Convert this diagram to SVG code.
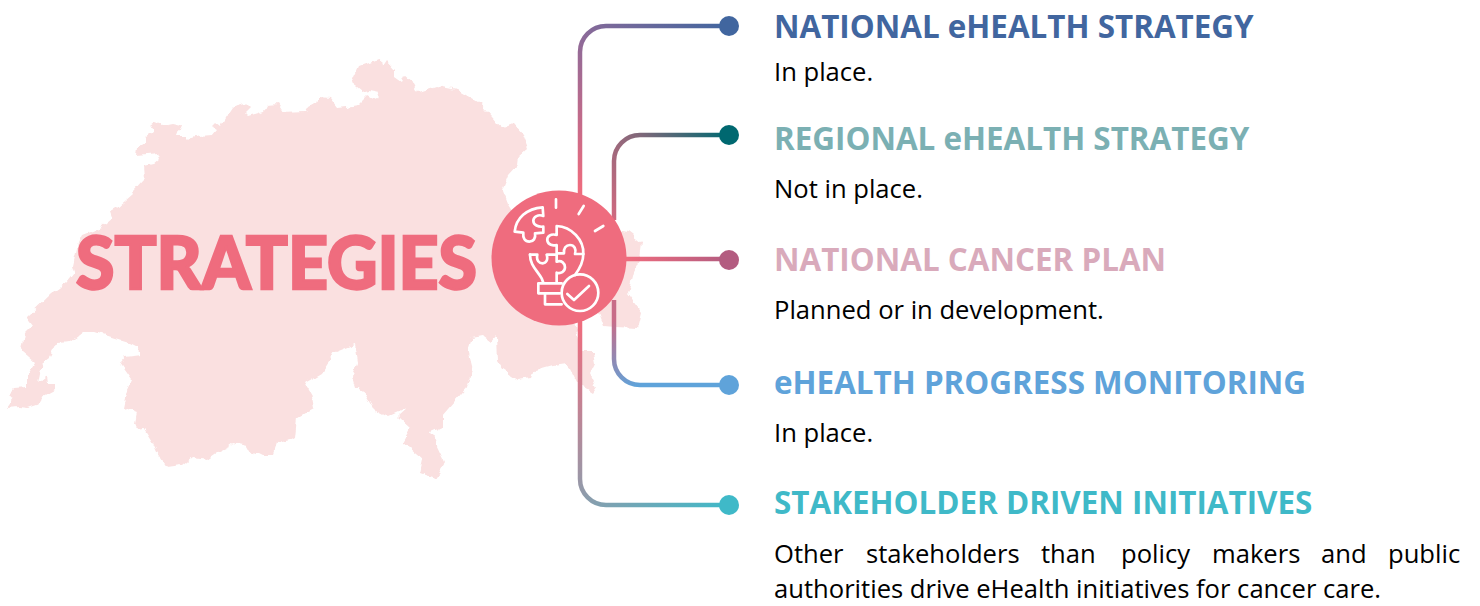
<svg xmlns="http://www.w3.org/2000/svg" width="1480" height="606" viewBox="0 0 1480 606">
<style>
.h{font-family:"Open Sans","Liberation Sans",sans-serif;font-weight:700;font-size:31.4px}
.b{font-family:"Open Sans","Liberation Sans",sans-serif;font-size:25.6px;fill:#000}
.c{fill:none;stroke-width:4.5}
.i{fill:none;stroke:#fff;stroke-width:8;stroke-linecap:round;stroke-linejoin:round}
</style>
<defs>
<filter id="rough" x="-2%" y="-2%" width="104%" height="104%"><feTurbulence type="fractalNoise" baseFrequency=".11" numOctaves="2" seed="4"/><feDisplacementMap in="SourceGraphic" scale="7" xChannelSelector="R" yChannelSelector="G"/></filter>
<linearGradient id="g1" gradientUnits="userSpaceOnUse" x1="580" y1="190" x2="729" y2="26"><stop offset="0" stop-color="#EF6C7E"/><stop offset=".5" stop-color="#8F6A98"/><stop offset="1" stop-color="#41669F"/></linearGradient>
<linearGradient id="g2" gradientUnits="userSpaceOnUse" x1="614" y1="220" x2="729" y2="135"><stop offset="0" stop-color="#D06A80"/><stop offset=".5" stop-color="#80687A"/><stop offset="1" stop-color="#006870"/></linearGradient>
<linearGradient id="g3" gradientUnits="userSpaceOnUse" x1="626" y1="259" x2="729" y2="259"><stop offset="0" stop-color="#EF6C7E"/><stop offset="1" stop-color="#B35C80"/></linearGradient>
<linearGradient id="g4" gradientUnits="userSpaceOnUse" x1="614" y1="320" x2="640" y2="385"><stop offset="0" stop-color="#C86C88"/><stop offset="1" stop-color="#5FA3DA"/></linearGradient>
<linearGradient id="g5" gradientUnits="userSpaceOnUse" x1="580" y1="325" x2="729" y2="505"><stop offset="0" stop-color="#EF6C7E"/><stop offset=".5" stop-color="#9C96A6"/><stop offset="1" stop-color="#3FB9C8"/></linearGradient>
</defs>
<path id="map" fill="#FAE0E0" filter="url(#rough)" d="M7 408L14 398L8 395L15 388L27 387L27 375L35 362L22 351L25 333L33 325L27 317L50 295L67 283L75 273L73 267L78 243L82 235L100 228L112 218L110 212L117 208L133 194L132 192L145 178L144 167L153 165L161 158L159 153L136 155L137 148L145 142L145 137L153 132L151 125L155 122L163 125L173 123L182 125L178 136L185 136L188 139L200 136L212 135L217 129L212 126L215 123L220 127L225 118L233 106L245 103L250 108L245 113L248 116L265 111L268 105L278 104L283 112L305 111L308 106L322 98L330 99L337 108L346 107L358 105L368 95L377 100L380 92L370 90L362 92L351 83L358 67L372 62L382 60L383 67L387 61L395 70L395 77L402 82L405 75L413 82L418 92L437 86L457 90L480 103L487 111L497 123L503 128L513 124L523 135L528 148L518 157L517 165L508 175L502 190L507 203L530 240L600 220L617 230L628 232L642 243L640 260L633 273L628 293L642 312L638 328L615 327L604 326L598 310L575 320L582 352L593 352L595 363L590 373L597 387L593 393L577 383L567 363L553 365L535 370L532 378L518 380L503 370L497 360L496 337L492 342L483 335L472 337L468 350L473 370L467 387L443 415L443 427L432 432L437 445L445 462L435 478L420 473L423 460L402 442L410 428L398 417L408 408L388 417L375 410L365 393L355 387L352 377L358 362L355 344L335 352L322 373L305 383L313 397L315 408L297 418L295 437L290 440L277 443L273 455L263 455L257 452L252 455L247 446L233 443L228 447L217 452L207 459L192 457L182 465L167 467L157 452L153 443L143 427L137 428L135 423L137 413L123 408L126 393L132 380L120 363L125 357L142 355L140 348L128 342L95 332L83 332L70 342L57 343L50 357L42 363L38 383L47 375L48 383L55 383L55 390L42 397L37 405L28 408L20 407Z"/>
<g id="connectors">
<path class="c" stroke="url(#g1)" d="M580 200V52A26 26 0 0 1 606 26H729"/>
<path class="c" stroke="url(#g2)" d="M614 220V161A26 26 0 0 1 640 135H729"/>
<path class="c" stroke="url(#g3)" d="M620 259H729"/>
<path class="c" stroke="url(#g4)" d="M614 300V359A26 26 0 0 0 640 385H729"/>
<path class="c" stroke="url(#g5)" d="M580 320V479A26 26 0 0 0 606 505H729"/>
</g>
<g id="hub">
<text x="76" y="288.5" font-family="Lato,'Liberation Sans',sans-serif" font-weight="900" font-size="73" fill="#EF6C7E" stroke="#EF6C7E" stroke-width="2.4" textLength="401" lengthAdjust="spacingAndGlyphs">STRATEGIES</text>
<circle cx="559" cy="258" r="67.5" fill="#EF6C7E"/>
<g class="i" transform="translate(480 170) scale(.3333)">
<path d="M188 112C140 115 108 145 104 185L130 188C128 205 135 215 148 215C160 215 168 205 165 190L190 188L190 170C175 172 160 165 160 152C160 140 175 132 190 138Z"/>
<path d="M230 168L230 195C212 190 200 200 202 212C205 225 218 228 230 225L230 250L252 250C250 235 258 225 270 225C283 225 290 238 285 252L310 252C312 210 275 170 230 168Z"/>
<path d="M150 254L172 254C168 272 178 280 188 280C198 280 205 270 200 254L230 254L230 275C245 270 255 280 255 292C255 305 242 312 230 308L230 335"/>
<path d="M150 254C150 285 170 300 185 325L190 338"/>
<path d="M310 252C310 275 300 295 285 315"/>
<path d="M245 340L175 340L175 370L240 370M195 370L195 403L245 403"/>
<circle cx="300" cy="368" r="55"/>
<path d="M262 372L282 390L327 348"/>
<path d="M228 88L228 113M311 108L296 132M370 168L345 183"/>
</g>
</g>
<g id="n1"><circle cx="729" cy="26" r="10" fill="#41669F"/><text class="h" x="774" y="37.5" fill="#41669F">NATIONAL eHEALTH STRATEGY</text><text class="b" x="774" y="81">In place.</text></g>
<g id="n2"><circle cx="729" cy="135" r="10" fill="#006870"/><text class="h" x="774" y="150" fill="#7BB0B3">REGIONAL eHEALTH STRATEGY</text><text class="b" x="774" y="198">Not in place.</text></g>
<g id="n3"><circle cx="729" cy="260" r="10" fill="#B35C80"/><text class="h" x="774" y="271" fill="#D9AABB">NATIONAL CANCER PLAN</text><text class="b" x="774" y="319">Planned or in development.</text></g>
<g id="n4"><circle cx="729" cy="385" r="10" fill="#5FA3DA"/><text class="h" x="774" y="394" fill="#5FA3DA">eHEALTH PROGRESS MONITORING</text><text class="b" x="774" y="442">In place.</text></g>
<g id="n5"><circle cx="729" cy="505" r="10" fill="#3FB9C8"/><text class="h" x="774" y="514" fill="#3FB9C8">STAKEHOLDER DRIVEN INITIATIVES</text><text class="b" y="563"><tspan x="774">Other </tspan><tspan x="866">stakeholders </tspan><tspan x="1041">than </tspan><tspan x="1121">policy </tspan><tspan x="1212">makers </tspan><tspan x="1321">and </tspan><tspan x="1388">public</tspan></text><text class="b" x="774" y="598">authorities drive eHealth initiatives for cancer care.</text></g>
</svg>
